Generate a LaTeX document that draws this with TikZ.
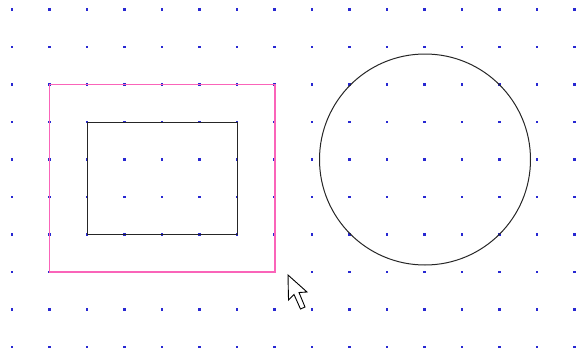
\documentclass[tikz,border=0pt]{standalone}
\usepackage{tikz}

\definecolor{griddot}{RGB}{40,40,210}
\definecolor{selpink}{RGB}{250,100,185}

\begin{document}
\begin{tikzpicture}[
  x=1pt, y=-1pt,
  dot/.style={fill=griddot, draw=none},
  shapeline/.style={draw=black!85, line width=1pt},
  selection/.style={draw=selpink, line width=1.3pt},
  pointer/.style={draw=black, fill=white, line width=0.9pt, line join=miter}
]
  \useasboundingbox (0,0) rectangle (576,354);

  % dot grid
  \foreach \i in {0,...,15}
    \foreach \j in {0,...,9}
      \fill[dot] ({12+37.5*\i-1.1},{9.5+37.5*\j-1.1}) rectangle ++(2.2,2.2);

  % selection frame and rectangle
  \draw[selection] (49.5,84.5) rectangle (275,272);
  \draw[shapeline] (87.5,122.5) rectangle (237.5,234.5);

  % circle
  \draw[shapeline] (425,159.5) circle (105.5);

  % mouse pointer
  \draw[pointer] (288,275) -- (288.5,300) -- (294,294.5) -- (300.5,309)
    -- (305,307) -- (299,292.5) -- (307,292) -- cycle;
\end{tikzpicture}
\end{document}
